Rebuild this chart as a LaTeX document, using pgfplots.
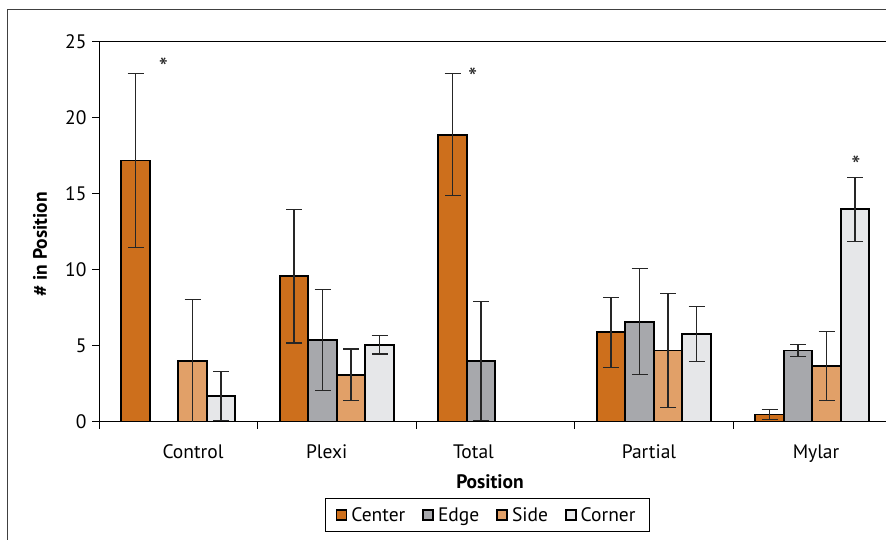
\documentclass[border=0pt]{standalone}
\usepackage{pgfplots}
\pgfplotsset{compat=1.18}
\usepackage{fontspec}
\setmainfont{PT Sans}
\definecolor{cCenter}{HTML}{CD6F1C}
\definecolor{cEdge}{HTML}{A7A8AC}
\definecolor{cSide}{HTML}{E1A068}
\definecolor{cCorner}{HTML}{E6E7E9}
\newcommand{\cfont}{\fontsize{19.5bp}{23bp}\selectfont}
\pgfplotsset{
  myerr/.style={
    error bars/y dir=both, error bars/y explicit,
    error bars/error bar style={line width=1.1bp, color=black!85},
    error bars/error mark options={rotate=90, mark size=8bp, line width=1.1bp, color=black!85},
  }
}
\begin{document}
\begin{tikzpicture}[x=1bp,y=1bp]
\useasboundingbox (0,0) rectangle (886,540);
\draw[line width=1bp, color=black!75] (7.5,-20) rectangle (920,530);
\begin{axis}[
  at={(99bp,118bp)}, anchor=south west,
  scale only axis, width=792.5bp, height=380bp,
  xmin=-0.5, xmax=4.5, ymin=0, ymax=25,
  ybar=0pt, bar width=28.5bp,
  legend image code/.code={\draw[#1, line width=1.7bp] (0bp,-5bp) rectangle (10bp,5bp);},
  axis line style={line width=1bp},
  tick style={line width=1bp, black},
  tick align=outside, major tick length=7bp,
  xtick pos=left, ytick pos=left,
  ytick={0,5,10,15,20,25},
  xtick={-0.5,0.5,1.5,2.5,3.5}, xticklabels={},
  extra x ticks={0.0931,0.9366,1.8628,2.970,4.0237},
  extra x tick labels={Control,Plexi,Total,Partial,Mylar},
  extra x tick style={major tick length=0pt, xticklabel style={anchor=base, yshift=-36.7bp}},
  /pgf/number format/assume math mode=true,
  tick label style={font=\cfont},
  yticklabel style={xshift=-2bp},
  xlabel={Position}, ylabel={\# in Position},
  label style={font=\cfont\bfseries},
  xlabel style={at={(axis description cs:0.4934,-0.158)}, anchor=center},
  ylabel style={at={(axis description cs:-0.0744,0.468)}, anchor=center},
  legend columns=4,
  legend style={at={(axis description cs:0.4903,-0.2447)}, anchor=center, draw=black, line width=0.8bp, font=\cfont,
    inner xsep=10bp, inner ysep=7bp,
    nodes={inner xsep=4bp, inner ysep=2bp},
    /tikz/every even column/.append style={column sep=13bp}},
]
\addplot[fill=cCenter, draw=black, line width=1.7bp, myerr] coordinates {
  (0,17.2) +- (0,5.7)
  (1,9.6) +- (0,4.4)
  (2,18.9) +- (0,4.0)
  (3,5.9) +- (0,2.3)
  (4,0.5) +- (0,0.35)
};
\addplot[fill=cEdge, draw=black, line width=1.7bp, myerr] coordinates {
  (1,5.4) +- (0,3.3)
  (2,4.0) +- (0,3.9)
  (3,6.6) +- (0,3.5)
  (4,4.7) +- (0,0.4)
};
\addplot[fill=cSide, draw=black, line width=1.7bp, myerr] coordinates {
  (0,4.0) +- (0,4.05)
  (1,3.1) +- (0,1.7)
  (3,4.7) +- (0,3.75)
  (4,3.7) +- (0,2.27)
};
\addplot[fill=cCorner, draw=black, line width=1.7bp, myerr] coordinates {
  (0,1.7) +- (0,1.6)
  (1,5.07) +- (0,0.6)
  (3,5.77) +- (0,1.8)
  (4,14.0) +- (0,2.1)
};
\legend{Center,Edge,Side,Corner}
\node[font=\fontsize{26bp}{28bp}\selectfont, anchor=base, inner sep=0pt, black!85] at (axis cs:-0.093,22.75) {*};
\node[font=\fontsize{26bp}{28bp}\selectfont, anchor=base, inner sep=0pt, black!85] at (axis cs:1.858,22.1) {*};
\node[font=\fontsize{26bp}{28bp}\selectfont, anchor=base, inner sep=0pt, black!85] at (axis cs:4.276,16.3) {*};
\end{axis}
\end{tikzpicture}
\end{document}
